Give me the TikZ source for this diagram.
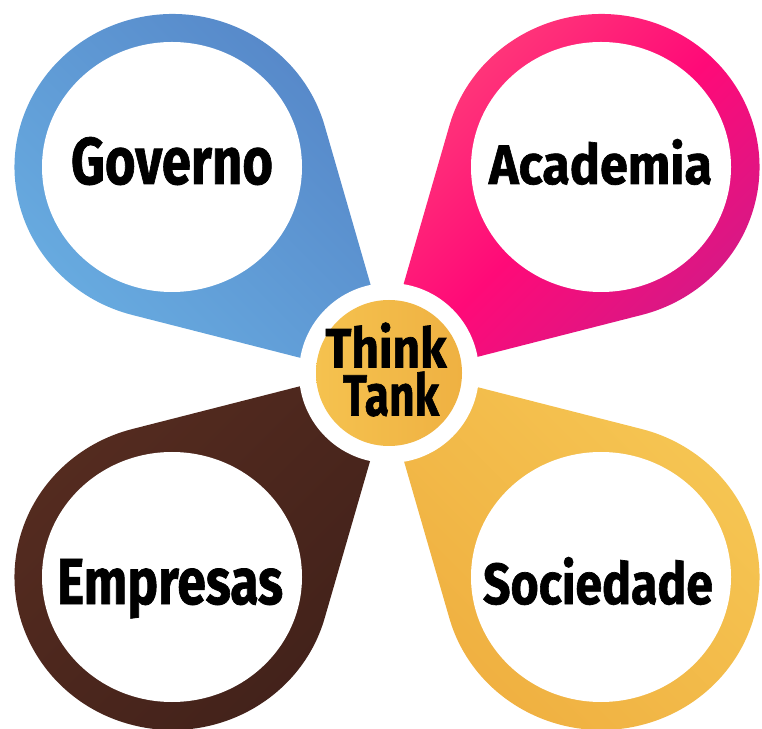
\documentclass[tikz,border=0pt]{standalone}
\usepackage{fontspec}
\setmainfont{Fira Sans}[BoldFeatures={FakeBold=1.2}]
\usetikzlibrary{calc,shapes.geometric}
\definecolor{blueA}{HTML}{69AEE2}
\definecolor{blueB}{HTML}{5585C7}
\definecolor{pinkA}{HTML}{FF4079}
\definecolor{pinkM}{HTML}{FF0A78}
\definecolor{pinkB}{HTML}{CF1B88}
\definecolor{brownA}{HTML}{562C20}
\definecolor{brownB}{HTML}{41211A}
\definecolor{goldA}{HTML}{F6C754}
\definecolor{goldB}{HTML}{EFAE3F}
\definecolor{coreA}{HTML}{F5C24F}
\definecolor{coreB}{HTML}{EFB142}
\begin{document}
\begin{tikzpicture}[x=1pt,y=1pt,
  hole/.style={ellipse, fill=white, minimum width=260pt, minimum height=250pt, inner sep=0pt},
  word/.style={anchor=base, inner sep=0pt, font=\bfseries}]
\useasboundingbox (0,0) rectangle (762,728);
\coordinate (C) at (387,356);
\coordinate (B1) at (172.5,561);
\coordinate (B2) at (601.5,561);
\coordinate (B3) at (172.5,151);
\coordinate (B4) at (601.5,151);
% teardrops
\shade[top color=blueB, bottom color=blueA, shading angle=-45]
  ($(C)+(12,-11)$) -- ($(B1)+(15.6:158 and 153)$)
  arc[start angle=15.6, end angle=255.2, x radius=158, y radius=153] -- cycle;
\shade[top color=pinkA, bottom color=pinkB, middle color=pinkM, shading angle=45]
  ($(C)+(-12,-11)$) -- ($(B2)+(164.4:158 and 153)$)
  arc[start angle=164.4, end angle=-75.2, x radius=158, y radius=153] -- cycle;
\shade[top color=brownA, bottom color=brownB, shading angle=45]
  ($(C)+(12,11)$) -- ($(B3)+(-15.6:158 and 153)$)
  arc[start angle=-15.6, end angle=-255.2, x radius=158, y radius=153] -- cycle;
\shade[top color=goldA, bottom color=goldB, shading angle=-45]
  ($(C)+(-12,11)$) -- ($(B4)+(195.6:158 and 153)$)
  arc[start angle=195.6, end angle=435.2, x radius=158, y radius=153] -- cycle;
% holes
\node[hole] (h1) at (172,561) {};
\node[hole] (h2) at (601,561) {};
\node[hole] (h3) at (172,151) {};
\node[hole] (h4) at (601,151) {};
% centre
\node[circle, fill=white, minimum size=180pt, inner sep=0pt] (ring) at (389,355) {};
\node[circle, left color=coreA, right color=coreB, minimum size=146pt, inner sep=0pt] (core) at (ring.center) {};
% words
\node[word] (w1) at (172,544) {\resizebox{202pt}{47pt}{Governo}};
\node[word] (w2) at (600.5,544) {\resizebox{223pt}{45pt}{Academia}};
\node[word] (w3) at (170,124) {\resizebox{226pt}{45pt}{Empresas}};
\node[word] (w4) at (598,124) {\resizebox{230pt}{47pt}{Sociedade}};
\node[word, anchor=center, align=center] (tt) at (386,358.5)
  {\resizebox{121pt}{45pt}{Think}\\[3pt]\hspace*{10pt}\resizebox{96pt}{44pt}{Tank}};
\end{tikzpicture}
\end{document}
